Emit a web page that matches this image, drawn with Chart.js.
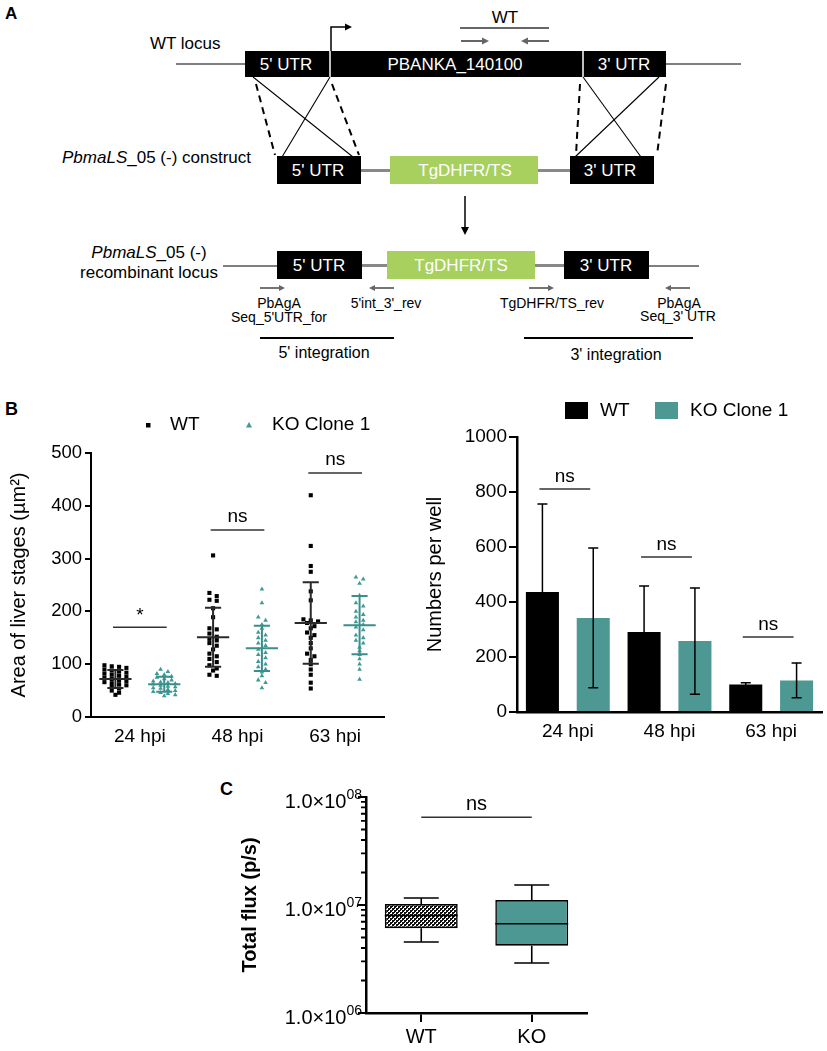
<!DOCTYPE html>
<html><head><meta charset="utf-8">
<script src="https://cdn.jsdelivr.net/npm/chart.js@4.4.0/dist/chart.umd.min.js"></script>
<style>
html,body{margin:0;padding:0;background:#fff;}
body{width:827px;height:1051px;position:relative;overflow:hidden;font-family:"Liberation Sans",Arial,sans-serif;}
.cv{position:absolute;}
svg{position:absolute;left:0;top:0;}
</style></head><body>
<svg width="827" height="1051" viewBox="0 0 827 1051" font-family="'Liberation Sans', Arial, sans-serif" font-size="17">
 <text x="5" y="19" font-weight="bold" font-size="17">A</text>
 <text x="505" y="23" text-anchor="middle">WT</text>
 <line x1="460" y1="28" x2="549" y2="28" stroke="#333" stroke-width="1.3"/>
 <line x1="461" y1="41" x2="484" y2="41" stroke="#666" stroke-width="2"/>
 <polygon points="482,37.5 489,41 482,44.5" fill="#666"/>
 <line x1="549" y1="41" x2="526" y2="41" stroke="#666" stroke-width="2"/>
 <polygon points="528,37.5 521,41 528,44.5" fill="#666"/>
 <polyline points="331,51 331,27 346,27" fill="none" stroke="#000" stroke-width="1.5"/>
 <polygon points="345,23.5 352,27 345,30.5" fill="#000"/>
 <text x="150" y="49">WT locus</text>
 <line x1="176" y1="64" x2="741" y2="64" stroke="#000" stroke-width="1.2"/>
 <rect x="245" y="51" width="421" height="26" fill="#000"/>
 <line x1="330" y1="51" x2="330" y2="77" stroke="#fff" stroke-width="1.5"/>
 <line x1="583" y1="51" x2="583" y2="77" stroke="#fff" stroke-width="1.5"/>
 <text fill="#fff" text-anchor="middle" x="286" y="70">5' UTR</text>
 <text fill="#fff" text-anchor="middle" x="455" y="70">PBANKA_140100</text>
 <text fill="#fff" text-anchor="middle" x="624" y="70">3' UTR</text>
 <g stroke="#000" stroke-width="1.1">
  <line x1="253" y1="77" x2="353" y2="157"/>
  <line x1="330" y1="77" x2="282" y2="157"/>
  <line x1="583" y1="77" x2="641" y2="157"/>
  <line x1="659" y1="77" x2="575" y2="157"/>
 </g>
 <g stroke="#000" stroke-width="2" stroke-dasharray="7,5">
  <line x1="256" y1="84" x2="275" y2="155"/>
  <line x1="332" y1="84" x2="359" y2="155"/>
  <line x1="580" y1="84" x2="576" y2="155"/>
  <line x1="666" y1="84" x2="657" y2="155"/>
 </g>
 <text x="251" y="163" text-anchor="end"><tspan font-style="italic">PbmaLS</tspan>_05 (-) construct</text>
 <line x1="361" y1="170.5" x2="390" y2="170.5" stroke="#888" stroke-width="3"/>
 <line x1="538" y1="170.5" x2="570" y2="170.5" stroke="#888" stroke-width="3"/>
 <rect x="277" y="156" width="84" height="28" fill="#000"/>
 <rect x="390" y="156" width="148" height="28" fill="#a7d05f"/>
 <rect x="570" y="156" width="84" height="28" fill="#000"/>
 <text fill="#fff" text-anchor="middle" x="318" y="176">5' UTR</text>
 <text fill="#fff" text-anchor="middle" x="465" y="176">TgDHFR/TS</text>
 <text fill="#fff" text-anchor="middle" x="610" y="176">3' UTR</text>
 <line x1="465" y1="196" x2="465" y2="228" stroke="#000" stroke-width="1.5"/>
 <polygon points="461,227 465,235 469,227" fill="#000"/>
 <text x="149" y="258" text-anchor="middle"><tspan font-style="italic">PbmaLS</tspan>_05 (-)</text>
 <text x="149" y="278" text-anchor="middle">recombinant locus</text>
 <line x1="223" y1="266" x2="699" y2="266" stroke="#000" stroke-width="1.2"/>
 <line x1="362" y1="265.5" x2="387" y2="265.5" stroke="#888" stroke-width="3"/>
 <line x1="535" y1="265.5" x2="564" y2="265.5" stroke="#888" stroke-width="3"/>
 <rect x="277" y="251" width="85" height="28" fill="#000"/>
 <rect x="387" y="251" width="148" height="28" fill="#a7d05f"/>
 <rect x="564" y="251" width="85" height="28" fill="#000"/>
 <text fill="#fff" text-anchor="middle" x="319" y="271">5' UTR</text>
 <text fill="#fff" text-anchor="middle" x="461" y="271">TgDHFR/TS</text>
 <text fill="#fff" text-anchor="middle" x="606" y="271">3' UTR</text>
 <g stroke="#666" stroke-width="1.8">
  <line x1="260" y1="288" x2="280" y2="288"/>
  <line x1="394" y1="288" x2="374" y2="288"/>
  <line x1="529" y1="288" x2="549" y2="288"/>
  <line x1="690" y1="288" x2="670" y2="288"/>
 </g>
 <g fill="#666">
  <polygon points="279,285 285,288 279,291"/>
  <polygon points="375,285 369,288 375,291"/>
  <polygon points="548,285 554,288 548,291"/>
  <polygon points="671,285 665,288 671,291"/>
 </g>
 <g font-size="14" text-anchor="middle">
  <text x="279" y="308">PbAgA</text>
  <text x="279" y="322">Seq_5'UTR_for</text>
  <text x="386" y="308">5'int_3'_rev</text>
  <text x="552" y="308">TgDHFR/TS_rev</text>
  <text x="679" y="308">PbAgA</text>
  <text x="678" y="321">Seq_3' UTR</text>
 </g>
 <line x1="260" y1="338" x2="394" y2="338" stroke="#000" stroke-width="2"/>
 <line x1="524" y1="338" x2="693" y2="338" stroke="#000" stroke-width="2"/>
 <text x="324" y="358" text-anchor="middle" font-size="16">5' integration</text>
 <text x="616" y="360" text-anchor="middle" font-size="16">3' integration</text>
 <text x="5" y="415" font-weight="bold" font-size="18">B</text>
 <text x="220" y="795" font-weight="bold" font-size="18">C</text>
</svg>
<div class="cv" style="left:0;top:400px;width:410px;height:350px"><canvas id="c1"></canvas></div>
<div class="cv" style="left:410px;top:390px;width:417px;height:360px"><canvas id="c2"></canvas></div>
<div class="cv" style="left:190px;top:770px;width:420px;height:281px"><canvas id="c3"></canvas></div>
<script>
// ---------- data ----------
const timepoints = ['24 hpi', '48 hpi', '63 hpi'];
const seriesNames = ['WT', 'KO Clone 1'];

const wtArea24 = [98, 96, 95, 93, 90, 88, 86, 84, 82, 80, 78, 76, 74, 72, 70, 68, 66, 64, 62, 60, 57, 54, 50, 46, 42];
const wtArea48 = [306, 235, 229, 222, 220, 206, 189, 168, 166, 158, 152, 148, 145, 140, 135, 128, 120, 115, 110, 104, 98, 92, 88, 80, 78];
const wtArea63 = [420, 324, 286, 275, 238, 221, 185, 183, 181, 178, 172, 168, 160, 155, 150, 140, 130, 120, 115, 108, 100, 90, 80, 65, 54];
const koArea24 = [90, 86, 82, 80, 77, 75, 72, 70, 68, 66, 65, 63, 62, 60, 58, 57, 55, 54, 52, 50, 48, 46, 44, 42, 40];
const koArea48 = [242, 216, 189, 183, 175, 168, 160, 155, 150, 145, 140, 135, 128, 122, 118, 112, 105, 100, 95, 90, 85, 78, 70, 65, 55];
const koArea63 = [265, 261, 253, 230, 216, 210, 200, 194, 189, 183, 180, 175, 170, 165, 155, 150, 145, 140, 132, 125, 118, 110, 100, 90, 71];

const wtAreaMean = [72, 151, 178];
const wtAreaSD = [17, 56, 77];
const koAreaMean = [62, 130, 174];
const koAreaSD = [14, 43, 55];
const areaSigLabel = ['*', 'ns', 'ns'];
const areaSigLevel = [170, 354, 462];

const wtCount = [436, 291, 100];
const wtCountSD = [320, 167, 6];
const koCount = [342, 258, 115];
const koCountSD = [254, 193, 63];
const countSigLabel = ['ns', 'ns', 'ns'];
const countSigLevel = [811, 564, 273];

const fluxGroups = ['WT', 'KO'];
const fluxMin = [4.55e6, 2.9e6];
const fluxQ1 = [6.1e6, 4.2e6];
const fluxMedian = [8.0e6, 6.7e6];
const fluxQ3 = [1.02e7, 1.11e7];
const fluxMax = [1.16e7, 1.53e7];
const fluxSigLabel = 'ns';
const fluxSigLevel = 6.5e7;
const fluxMajorTicks = [1e6, 1e7, 1e8];

// ---------- styling ----------
const FONT = '"Liberation Sans", Arial, Helvetica, sans-serif';
const TEAL = '#4d9893';
const TEAL_PT = '#3f9a95';
Chart.defaults.font.family = FONT;
Chart.defaults.color = '#000';
Chart.defaults.animation = false;

// beeswarm-like spreading of points that share nearly the same value
function swarm(values, center, tol, step) {
  const sorted = values.slice().sort((a, b) => b - a);
  const out = [];
  let row = [];
  const flush = () => {
    const n = row.length;
    row.forEach((v, k) => out.push({ x: center + (k - (n - 1) / 2) * step, y: v }));
    row = [];
  };
  for (const v of sorted) {
    if (row.length && (row[0] - v > tol || row.length >= 4)) flush();
    row.push(v);
  }
  flush();
  return out;
}
const wtAreas = [wtArea24, wtArea48, wtArea63];
const koAreas = [koArea24, koArea48, koArea63];
const wtPts = [].concat(...wtAreas.map((a, i) => swarm(a, 2 * i + 0.5, 6, 0.15)));
const koPts = [].concat(...koAreas.map((a, i) => swarm(a, 2 * i + 1.5, 6, 0.15)));

// ---------- Chart 1: scatter ----------
const scatterDeco = {
  id: 'scatterDeco',
  afterDatasetsDraw(chart) {
    const { ctx, scales: { x, y } } = chart;
    ctx.save();
    const groups = [[wtAreaMean, wtAreaSD, 0.5, '#2a2a2a'], [koAreaMean, koAreaSD, 1.5, '#3a8f8a']];
    groups.forEach(([m, s, off, col]) => {
      m.forEach((mv, i) => {
        const c = 2 * i + off;
        const px = x.getPixelForValue(c);
        const hw = x.getPixelForValue(c + 0.33) - px;
        const cw = x.getPixelForValue(c + 0.165) - px;
        const yT = y.getPixelForValue(mv + s[i]);
        const yB = y.getPixelForValue(mv - s[i]);
        const yM = y.getPixelForValue(mv);
        ctx.strokeStyle = col; ctx.lineWidth = 2;
        ctx.beginPath();
        ctx.moveTo(px, yT); ctx.lineTo(px, yB);
        ctx.moveTo(px - cw, yT); ctx.lineTo(px + cw, yT);
        ctx.moveTo(px - cw, yB); ctx.lineTo(px + cw, yB);
        ctx.moveTo(px - hw, yM); ctx.lineTo(px + hw, yM);
        ctx.stroke();
      });
    });
    // significance
    ctx.strokeStyle = '#333'; ctx.lineWidth = 1.5; ctx.fillStyle = '#000';
    ctx.textAlign = 'center'; ctx.textBaseline = 'alphabetic';
    areaSigLevel.forEach((lv, i) => {
      const c = 2 * i + 1;
      const x1 = x.getPixelForValue(c - 0.55), x2 = x.getPixelForValue(c + 0.55);
      const py = y.getPixelForValue(lv);
      ctx.beginPath(); ctx.moveTo(x1, py); ctx.lineTo(x2, py); ctx.stroke();
      ctx.font = '19px ' + FONT;
      ctx.fillText(areaSigLabel[i], (x1 + x2) / 2, py - (areaSigLabel[i] === '*' ? 6 : 8));
    });
    // legend
    ctx.fillStyle = '#000';
    ctx.fillRect(146, 23, 4.5, 4.5);
    ctx.fillStyle = TEAL_PT;
    ctx.beginPath(); ctx.moveTo(249, 22); ctx.lineTo(252, 27.5); ctx.lineTo(246, 27.5); ctx.closePath(); ctx.fill();
    ctx.fillStyle = '#000'; ctx.textAlign = 'left'; ctx.textBaseline = 'middle';
    ctx.font = '19px ' + FONT;
    ctx.fillText(seriesNames[0], 170, 25);
    ctx.fillText(seriesNames[1], 272, 25);
    ctx.restore();
  }
};

new Chart(document.getElementById('c1'), {
  type: 'scatter',
  data: {
    datasets: [
      { label: seriesNames[0], data: wtPts, pointStyle: 'rect', pointRadius: 2.9, backgroundColor: '#000', borderWidth: 0 },
      { label: seriesNames[1], data: koPts, pointStyle: 'triangle', pointRadius: 2.7, backgroundColor: TEAL_PT, borderWidth: 0 }
    ]
  },
  options: {
    responsive: true, maintainAspectRatio: false,
    layout: { padding: { top: 53, right: 26, left: 0, bottom: 0 } },
    plugins: { legend: { display: false }, tooltip: { enabled: false } },
    scales: {
      x: {
        type: 'linear', min: 0, max: 6,
        afterBuildTicks: s => { s.ticks = [1, 3, 5].map(v => ({ value: v })); },
        ticks: { callback: v => timepoints[(v - 1) / 2], font: { size: 19 }, color: '#000', padding: 8, maxRotation: 0, autoSkip: false },
        grid: { display: true, drawOnChartArea: false, drawTicks: false },
        border: { display: true, color: '#000', width: 2 },
        afterFit: s => { s.height = 33; }
      },
      y: {
        min: 0, max: 500,
        ticks: { stepSize: 100, font: { size: 18.5 }, color: '#000', padding: 3 },
        grid: { drawOnChartArea: false, drawTicks: true, tickLength: 6, color: '#000', lineWidth: 2 },
        border: { display: true, color: '#000', width: 2 },
        title: { display: true, text: 'Area of liver stages (µm²)', font: { size: 20 }, color: '#000', padding: { top: 7, bottom: 0 } },
        afterFit: s => { s.width = 91; }
      }
    }
  },
  plugins: [scatterDeco]
});

// ---------- Chart 2: bars ----------
const barDeco = {
  id: 'barDeco',
  afterDatasetsDraw(chart) {
    const { ctx, scales: { y } } = chart;
    ctx.save();
    const sds = [wtCountSD, koCountSD];
    const means = [wtCount, koCount];
    ctx.strokeStyle = '#000'; ctx.lineWidth = 1.5;
    [0, 1].forEach(d => {
      const meta = chart.getDatasetMeta(d);
      meta.data.forEach((bar, i) => {
        const yT = y.getPixelForValue(means[d][i] + sds[d][i]);
        const yB = y.getPixelForValue(Math.max(0, means[d][i] - sds[d][i]));
        ctx.beginPath();
        ctx.moveTo(bar.x, yT); ctx.lineTo(bar.x, yB);
        ctx.moveTo(bar.x - 5, yT); ctx.lineTo(bar.x + 5, yT);
        ctx.moveTo(bar.x - 5, yB); ctx.lineTo(bar.x + 5, yB);
        ctx.stroke();
      });
    });
    const m0 = chart.getDatasetMeta(0), m1 = chart.getDatasetMeta(1);
    ctx.strokeStyle = '#333'; ctx.fillStyle = '#000';
    ctx.textAlign = 'center'; ctx.textBaseline = 'alphabetic';
    ctx.font = '19px ' + FONT;
    countSigLevel.forEach((lv, i) => {
      const x1 = m0.data[i].x - 3, x2 = m1.data[i].x - 3;
      const py = y.getPixelForValue(lv);
      ctx.beginPath(); ctx.moveTo(x1, py); ctx.lineTo(x2, py); ctx.stroke();
      ctx.fillText(countSigLabel[i], (x1 + x2) / 2, py - 7);
    });
    // legend
    ctx.fillStyle = '#000'; ctx.fillRect(155, 12, 23, 17);
    ctx.fillStyle = TEAL; ctx.fillRect(245, 12, 23, 17);
    ctx.fillStyle = '#000'; ctx.textAlign = 'left'; ctx.textBaseline = 'middle';
    ctx.font = '19px ' + FONT;
    ctx.fillText(seriesNames[0], 190, 21);
    ctx.fillText(seriesNames[1], 280, 21);
    ctx.restore();
  }
};

new Chart(document.getElementById('c2'), {
  type: 'bar',
  data: {
    labels: timepoints,
    datasets: [
      { label: seriesNames[0], data: wtCount, backgroundColor: '#000', barPercentage: 0.65, categoryPercentage: 1.0 },
      { label: seriesNames[1], data: koCount, backgroundColor: TEAL, barPercentage: 0.65, categoryPercentage: 1.0 }
    ]
  },
  options: {
    responsive: true, maintainAspectRatio: false,
    layout: { padding: { top: 47, right: 5, left: 0, bottom: 0 } },
    plugins: { legend: { display: false }, tooltip: { enabled: false } },
    scales: {
      x: {
        ticks: { font: { size: 19 }, color: '#000', padding: 8, maxRotation: 0 },
        grid: { display: true, drawOnChartArea: false, drawTicks: false },
        border: { display: true, color: '#000', width: 2.5 },
        afterFit: s => { s.height = 38; }
      },
      y: {
        min: 0, max: 1000,
        ticks: { stepSize: 200, font: { size: 19 }, color: '#000', padding: 2, callback: v => String(v) },
        grid: { drawOnChartArea: false, drawTicks: true, tickLength: 8, color: '#000', lineWidth: 2 },
        border: { display: true, color: '#000', width: 2.5 },
        title: { display: true, text: 'Numbers per well', font: { size: 20 }, color: '#000', padding: { top: 13, bottom: 0 } },
        afterFit: s => { s.width = 107; }
      }
    }
  },
  plugins: [barDeco]
});

// ---------- Chart 3: box plot (log) ----------
function checker() {
  const c = document.createElement('canvas');
  c.width = 4; c.height = 4;
  const g = c.getContext('2d');
  g.fillStyle = '#fff'; g.fillRect(0, 0, 4, 4);
  g.fillStyle = '#111'; g.fillRect(0, 0, 2, 2); g.fillRect(2, 2, 2, 2);
  g.fillRect(0, 2, 1, 1); g.fillRect(2, 0, 1, 1);
  return c.getContext('2d').createPattern(c, 'repeat');
}
const boxDeco = {
  id: 'boxDeco',
  afterDatasetsDraw(chart) {
    const { ctx, scales: { x, y } } = chart;
    ctx.save();
    const meta = chart.getDatasetMeta(0);
    ctx.strokeStyle = '#000'; ctx.lineWidth = 1.6;
    meta.data.forEach((bar, i) => {
      const px = bar.x, hw = bar.width / 2;
      const yMax = y.getPixelForValue(fluxMax[i]), yQ3 = y.getPixelForValue(fluxQ3[i]);
      const yMin = y.getPixelForValue(fluxMin[i]), yQ1 = y.getPixelForValue(fluxQ1[i]);
      const yMed = y.getPixelForValue(fluxMedian[i]);
      ctx.beginPath();
      ctx.moveTo(px, yQ3); ctx.lineTo(px, yMax);
      ctx.moveTo(px - hw * 0.48, yMax); ctx.lineTo(px + hw * 0.48, yMax);
      ctx.moveTo(px, yQ1); ctx.lineTo(px, yMin);
      ctx.moveTo(px - hw * 0.48, yMin); ctx.lineTo(px + hw * 0.48, yMin);
      ctx.moveTo(px - hw, yMed); ctx.lineTo(px + hw, yMed);
      ctx.stroke();
    });
    // log ticks (major + minor)
    const ax = chart.chartArea.left;
    ctx.lineWidth = 1.8;
    ctx.beginPath();
    for (let e = 6; e < 8; e++) {
      for (let k = 1; k <= 9; k++) {
        const py = y.getPixelForValue(k * Math.pow(10, e));
        ctx.moveTo(ax, py); ctx.lineTo(ax - (k === 1 ? 8 : 5), py);
      }
    }
    ctx.moveTo(ax, y.getPixelForValue(1e8)); ctx.lineTo(ax - 8, y.getPixelForValue(1e8));
    ctx.stroke();
    // major labels with superscript exponent
    ctx.fillStyle = '#000'; ctx.textBaseline = 'alphabetic';
    fluxMajorTicks.forEach(v => {
      const py = y.getPixelForValue(v);
      const ex = String(Math.round(Math.log10(v))).padStart(2, '0');
      ctx.font = '14px ' + FONT; ctx.textAlign = 'left';
      const exW = ctx.measureText(ex).width;
      const xr = ax - 4 - exW;
      ctx.fillText(ex, xr, py + 2);
      ctx.font = '20px ' + FONT; ctx.textAlign = 'right';
      ctx.fillText('1.0×10', xr, py + 11);
    });
    // significance
    const x1 = x.getPixelForValue(0), x2 = x.getPixelForValue(1);
    const py = y.getPixelForValue(fluxSigLevel);
    ctx.strokeStyle = '#333'; ctx.lineWidth = 1.5;
    ctx.beginPath(); ctx.moveTo(x1, py); ctx.lineTo(x2, py); ctx.stroke();
    ctx.textAlign = 'center'; ctx.font = '20px ' + FONT;
    ctx.fillText(fluxSigLabel, (x1 + x2) / 2, py - 7);
    ctx.restore();
  }
};

new Chart(document.getElementById('c3'), {
  type: 'bar',
  data: {
    labels: fluxGroups,
    datasets: [{
      data: fluxQ1.map((q, i) => [q, fluxQ3[i]]),
      backgroundColor: [checker(), TEAL],
      borderColor: '#000', borderWidth: 1.6, borderSkipped: false,
      barPercentage: 0.66, categoryPercentage: 1.0
    }]
  },
  options: {
    responsive: true, maintainAspectRatio: false,
    layout: { padding: { top: 27, right: 23, left: 0, bottom: 0 } },
    plugins: { legend: { display: false }, tooltip: { enabled: false } },
    scales: {
      x: {
        ticks: { font: { size: 20 }, color: '#000', padding: 3, maxRotation: 0 },
        grid: { display: true, offset: false, drawOnChartArea: false, drawTicks: true, tickLength: 9, color: '#000', lineWidth: 2 },
        border: { display: true, color: '#000', width: 2.5 },
        afterFit: s => { s.height = 38; }
      },
      y: {
        type: 'logarithmic', min: 1e6, max: 1e8,
        afterBuildTicks: s => { s.ticks = fluxMajorTicks.map(v => ({ value: v })); },
        ticks: { callback: () => '', font: { size: 20 } },
        grid: { display: false },
        border: { display: true, color: '#000', width: 2.5 },
        title: { display: true, text: 'Total flux (p/s)', font: { size: 20, weight: 'bold' }, color: '#000', padding: { top: 48, bottom: 0 } },
        afterFit: s => { s.width = 176; }
      }
    }
  },
  plugins: [boxDeco]
});
</script>
</body></html>
